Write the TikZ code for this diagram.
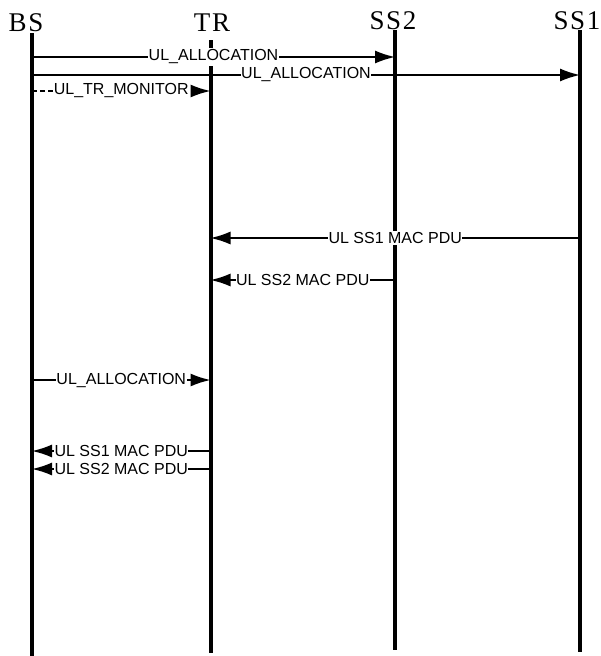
\documentclass[tikz,border=0pt]{standalone}
\usepackage{fontspec}
\setmainfont{Liberation Serif}
\newfontfamily\labfont{Liberation Sans}
\newfontfamily\headfont[LetterSpace=6]{Liberation Serif}
\usetikzlibrary{arrows.meta}

\begin{document}
\begin{tikzpicture}[x=1pt,y=1pt,
  life/.style={line width=4pt},
  msg/.style={-{Latex[length=20pt,width=13pt]},line width=1.7pt},
  lab/.style={fill=white,inner xsep=0.5pt,inner ysep=1.5pt,font=\labfont\fontsize{16}{18}\selectfont},
  head/.style={anchor=base,inner sep=0pt,font=\headfont\fontsize{27}{30}\selectfont}]
\useasboundingbox (0,0) rectangle (600,-656);
% entities
\node[head] (BS) at (26,-31) {BS};
\node[head] (TR) at (212,-31) {TR};
\node[head] (SS2) at (393,-29.5) {SS2};
\node[head] (SS1) at (577,-29.5) {SS1};
% lifelines
\coordinate (bsT) at (32,-33);   \coordinate (bsB) at (32,-656);
\coordinate (trT) at (210.5,-40); \coordinate (trB) at (210.5,-653);
\coordinate (ss2T) at (395,-30); \coordinate (ss2B) at (395,-650);
\coordinate (ss1T) at (580,-30); \coordinate (ss1B) at (580,-652);
\draw[life] (bsT)--(bsB); \draw[life] (trT)--(trB);
\draw[life] (ss2T)--(ss2B); \draw[life] (ss1T)--(ss1B);
% message levels
\foreach \n/\y in {m1/57,m2/75,m3/91,m4/238,m5/280,m6/380,m7/451,m8/469}
  \coordinate (\n) at (0,-\y);
\draw[msg] (bsT|-m1)--(ss2T|-m1) node[lab,midway] {UL\_ALLOCATION};
\draw[msg] (bsT|-m2)--(ss1T|-m2) node[lab,midway] {UL\_ALLOCATION};
\draw[msg,dash pattern=on 5pt off 3pt] (bsT|-m3)--(trT|-m3) node[lab,midway] {UL\_TR\_MONITOR};
\draw[msg] (ss1T|-m4)--(trT|-m4) node[lab,midway] {UL SS1 MAC PDU};
\draw[msg] (ss2T|-m5)--(trT|-m5) node[lab,midway] {UL SS2 MAC PDU};
\draw[msg] (bsT|-m6)--(trT|-m6) node[lab,midway] {UL\_ALLOCATION};
\draw[msg] (trT|-m7)--(bsT|-m7) node[lab,midway] {UL SS1 MAC PDU};
\draw[msg] (trT|-m8)--(bsT|-m8) node[lab,midway] {UL SS2 MAC PDU};
\end{tikzpicture}
\end{document}
